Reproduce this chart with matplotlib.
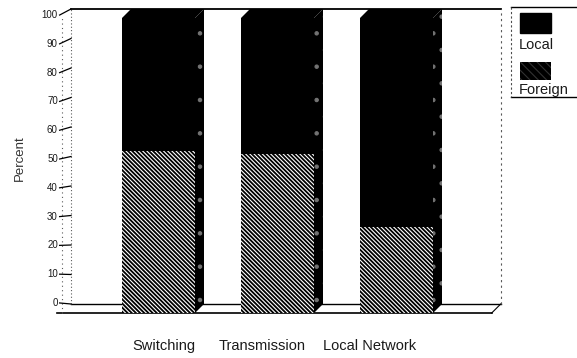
import numpy as np
import matplotlib.pyplot as plt
from matplotlib.patches import Rectangle

plt.rcParams['font.family'] = ['Liberation Sans', 'DejaVu Sans']
plt.rcParams['hatch.linewidth'] = 0.8

# data
categories = ['Switching', 'Transmission', 'Local Network']
foreign = [55, 54, 29]          # percent, lower hatched part
local = [45, 46, 71]            # percent, upper black part
yticks = list(range(0, 101, 10))

W, H = 577, 358
fig = plt.figure(figsize=(W / 100, H / 100), dpi=100)
ax = fig.add_axes([0, 0, 1, 1])
# front plane: 0% at y=313px, 100% at y=18px; bar pitch 119px
ax.set_xlim(-158.5 / 119, (W - 158.5) / 119)
ax.set_ylim((313 - H) / 2.95, 313 / 2.95)
ax.axis('off')

x = np.arange(len(categories))
bw = 73 / 119                    # bar width
dx, dy = 9 / 119, 9 / 2.95       # 3d depth offset
wl, wr = -0.811, 2.80            # left / right wall at the front

# floor
ax.plot([-0.85, wr], [0, 0], c='k', lw=1.2, zorder=1)
ax.plot([wl + dx, wr + dx], [dy, dy], c='k', lw=1.0, zorder=1)
ax.plot([wr, wr + dx], [0, dy], c='k', lw=0.8, zorder=1)
# walls
ax.plot([wl + dx, wr + dx], [100 + dy, 100 + dy], c='k', lw=1.3, zorder=1)
ax.plot([wl + dx, wl + dx], [dy, 100 + dy], c='0.35', lw=0.8, ls=(0, (1, 2)), zorder=1)
ax.plot([wl, wl], [0, 100], c='0.35', lw=0.8, ls=(0, (1, 3)), zorder=1)
ax.plot([wr + dx, wr + dx], [dy, 100 + dy], c='0.35', lw=0.8, ls=(0, (2, 3)), zorder=1)

# y ticks drawn on the side wall
for v in yticks:
    ty = v * 0.976 + 3.4
    ax.plot([wl - 0.02, wl + dx], [ty, v + dy], c='k', lw=0.9, zorder=2)
    ax.text(wl - 0.035, ty, str(v), ha='right', va='center', fontsize=7, color='0.1')

ax.text(20 / 119 - 158.5 / 119, (313 - 158) / 2.95, 'Percent', rotation=90,
        ha='center', va='center', fontsize=9.5, color='0.2')

# bars, front faces
ax.bar(x, foreign, bw, color='black', edgecolor='white', linewidth=0,
       hatch='\\' * 8, zorder=3)
ax.bar(x, local, bw, bottom=foreign, color='black', linewidth=0, zorder=3)

# side and top faces
tot = np.array(foreign) + np.array(local)
for xi, t in zip(x, tot):
    r = xi + bw / 2
    l = xi - bw / 2
    ax.fill([r, r + dx, r + dx, r], [0, dy, t + dy, t], color='black', lw=0, zorder=3)
    ax.fill([r, r + dx, r + dx, r], [0, dy, t + dy, t], facecolor='none',
            edgecolor='0.45', hatch='.', lw=0, zorder=3)
    ax.fill([l, l + dx, r + dx, r], [t, t + dy, t + dy, t], color='black', lw=0, zorder=3)

# category labels
for xl, name in zip([0.046, 0.87, 1.777], categories):
    ax.text(xl, (313 - 346) / 2.95, name, ha='center', va='center', fontsize=10.5, color='0.1')

# legend box, pixel positions
def fx(px):
    return px / W

def fy(py):
    return 1 - py / H

fig.add_artist(plt.Line2D([fx(511), fx(577)], [fy(7), fy(7)], c='k', lw=1.0,
                          transform=fig.transFigure))
fig.add_artist(plt.Line2D([fx(511), fx(577)], [fy(97), fy(97)], c='k', lw=1.0,
                          transform=fig.transFigure))
fig.add_artist(plt.Line2D([fx(511), fx(511)], [fy(7), fy(97)], c='0.3', lw=0.8,
                          ls=(0, (2, 2)), transform=fig.transFigure))
fig.add_artist(Rectangle((fx(520), fy(33)), fx(31), 20 / H, color='black',
                         transform=fig.transFigure))
fig.add_artist(Rectangle((fx(520), fy(80)), fx(31), 18 / H, facecolor='black',
                         edgecolor='0.2', hatch='\\' * 4, lw=0, transform=fig.transFigure))
fig.text(fx(519), fy(45), 'Local', ha='left', va='center', fontsize=10.5, color='0.1')
fig.text(fx(519), fy(90), 'Foreign', ha='left', va='center', fontsize=10.5, color='0.1')

fig.savefig('out.png', dpi=100)
